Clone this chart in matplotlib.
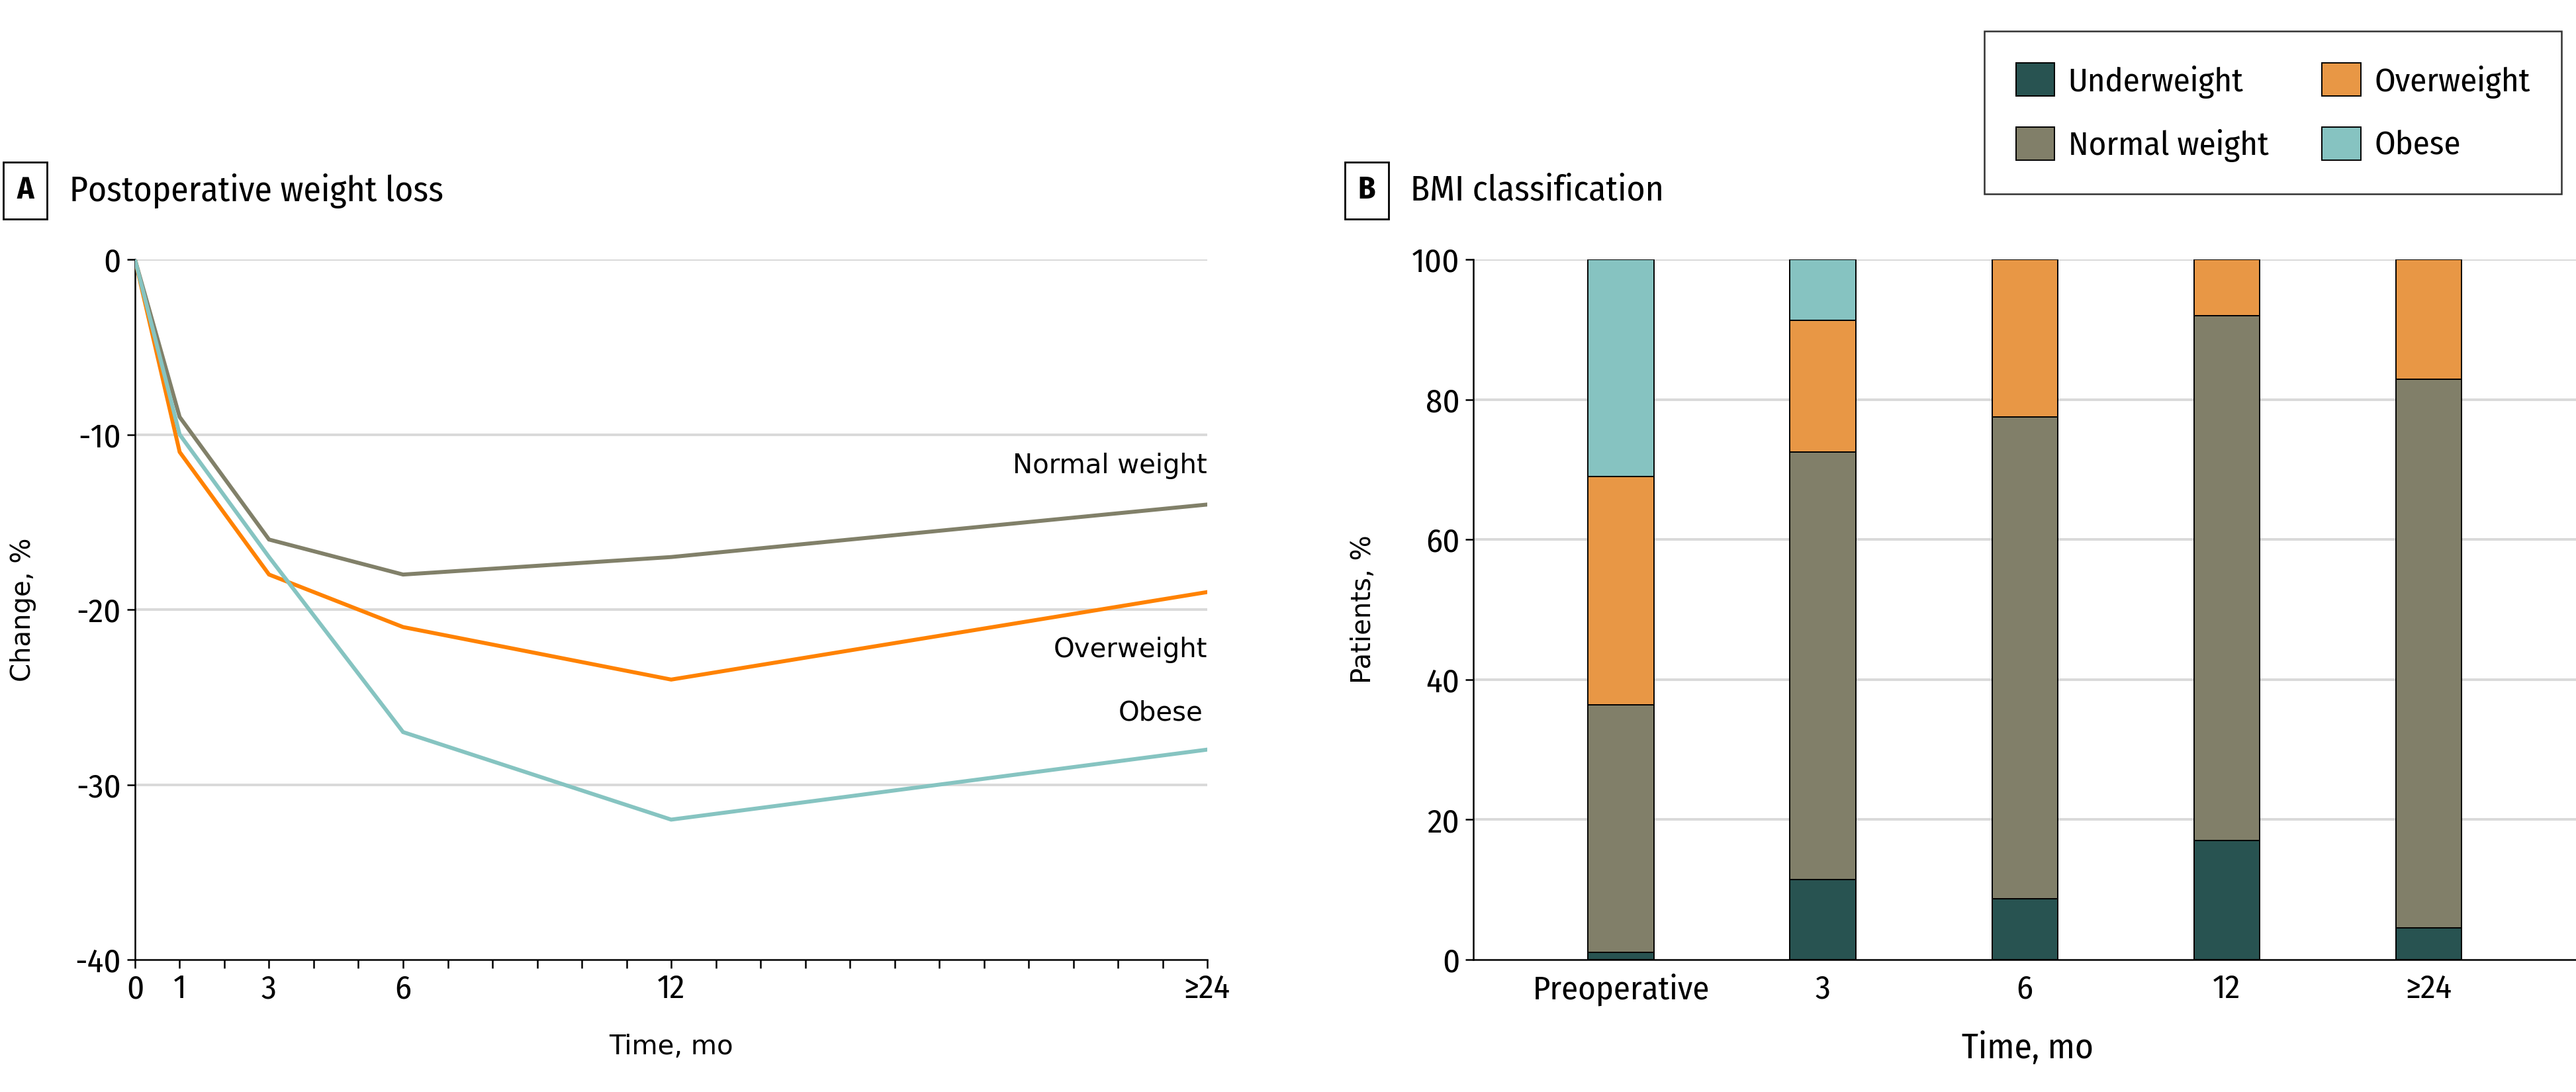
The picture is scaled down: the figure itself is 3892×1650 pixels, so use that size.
import matplotlib
matplotlib.use("Agg")
import matplotlib.pyplot as plt
from matplotlib.patches import Patch
import numpy as np

# ---- Data ----
months = [0, 1, 3, 6, 12, 24]
normal_change = [0, -9, -16, -18, -17, -14]
over_change = [0, -11, -18, -21, -24, -19]
obese_change = [0, -10, -17, -27, -32, -28]
xtick_vals = [0, 1, 3, 6, 12, 24]
xtick_labels = ["0", "1", "3", "6", "12", "\u226524"]

bar_cats = ["Preoperative", "3", "6", "12", "\u226524"]
under_pct = [1.0, 11.4, 8.7, 17.0, 4.5]
normal_pct = [35.4, 61.1, 68.8, 75.0, 78.4]
over_pct = [32.6, 18.8, 22.5, 8.0, 17.1]
obese_pct = [31.0, 8.7, 0.0, 0.0, 0.0]

# ---- Style ----
C_NORMAL_LINE = "#818069"
C_OVER_LINE = "#FF8200"
C_OBESE_LINE = "#86C4C1"
C_UNDER = "#285351"
C_NORMAL = "#817F69"
C_OVER = "#E89745"
C_OBESE = "#86C3C1"
GRID = "#D9D9D9"

NARROW = ["Fira Sans Condensed", "DejaVu Sans"]
WIDE = ["DejaVu Sans"]
FS = 36.5
FT = 38.5

fig = plt.figure(figsize=(38.92, 16.5), dpi=100)

# ---------- Panel A ----------
axA = fig.add_axes([0.0524, 0.1212, 0.4163, 0.6412])
axA.plot(months, normal_change, color=C_NORMAL_LINE, lw=4.3, solid_joinstyle="miter", zorder=3)
axA.plot(months, over_change, color=C_OVER_LINE, lw=4.3, solid_joinstyle="miter", zorder=3)
axA.plot(months, obese_change, color=C_OBESE_LINE, lw=4.3, solid_joinstyle="miter", zorder=4)
axA.set_xlim(0, 24)
axA.set_ylim(-40, 0)
axA.set_yticks([0, -10, -20, -30, -40])
axA.set_yticklabels(["0", "-10", "-20", "-30", "-40"])
axA.set_xticks(np.arange(0, 25, 1))
axA.set_xticklabels([xtick_labels[xtick_vals.index(v)] if v in xtick_vals else "" for v in range(25)])
for y in [0, -10, -20, -30]:
    axA.axhline(y, color=GRID, lw=2.8, zorder=1)
for s in ["top", "right"]:
    axA.spines[s].set_visible(False)
for s in ["left", "bottom"]:
    axA.spines[s].set_linewidth(1.8)
axA.tick_params(axis="both", direction="out", length=9, width=1.8, pad=6)
axA.tick_params(axis="y", length=9, pad=6)
for lab in axA.get_xticklabels() + axA.get_yticklabels():
    lab.set_family(NARROW)
    lab.set_fontsize(FS)
fig.text(0.009, 0.4418, "Change, %", rotation=90, ha="center", va="center", fontsize=29, family=WIDE)
fig.text(0.2606, 0.041, "Time, mo", ha="center", va="center", fontsize=29, family=WIDE)
axA.text(24, -11.8, "Normal weight", ha="right", va="center", fontsize=29, family=WIDE)
axA.text(24, -22.3, "Overweight", ha="right", va="center", fontsize=29, family=WIDE)
axA.text(23.9, -25.9, "Obese", ha="right", va="center", fontsize=29, family=WIDE)

fig.text(0.0098, 0.8255, "A", fontsize=34, fontweight="bold", family=NARROW, ha="center", va="center",
         bbox=dict(boxstyle="square,pad=0.42", fc="white", ec="black", lw=2))
fig.text(0.027, 0.8255, "Postoperative weight loss", fontsize=FT, family=NARROW, ha="left", va="center")

# ---------- Panel B ----------
axB = fig.add_axes([0.572, 0.1212, 0.428, 0.6412])
x = np.arange(len(bar_cats))
w = 0.325
b1 = np.array(under_pct)
b2 = b1 + np.array(normal_pct)
b3 = b2 + np.array(over_pct)
axB.bar(x, under_pct, w, color=C_UNDER, edgecolor="black", lw=1.4, zorder=3)
axB.bar(x, normal_pct, w, bottom=b1, color=C_NORMAL, edgecolor="black", lw=1.4, zorder=3)
axB.bar(x, over_pct, w, bottom=b2, color=C_OVER, edgecolor="black", lw=1.4, zorder=3)
obese_mask = np.array(obese_pct) > 0
axB.bar(x[obese_mask], np.array(obese_pct)[obese_mask], w, bottom=b3[obese_mask], color=C_OBESE,
        edgecolor="black", lw=1.4, zorder=3)
axB.set_xlim(-0.73, 4.73)
axB.set_ylim(0, 100)
axB.set_yticks([0, 20, 40, 60, 80, 100])
for y in [20, 40, 60, 80, 100]:
    axB.axhline(y, color=GRID, lw=2.8, zorder=1)
axB.set_xticks(x)
axB.set_xticklabels(bar_cats)
for s in ["top", "right"]:
    axB.spines[s].set_visible(False)
for s in ["left", "bottom"]:
    axB.spines[s].set_linewidth(1.8)
    axB.spines[s].set_zorder(4)
axB.tick_params(axis="y", direction="out", length=9, width=1.8, pad=6)
axB.tick_params(axis="x", length=0, pad=15)
for lab in axB.get_xticklabels() + axB.get_yticklabels():
    lab.set_family(NARROW)
    lab.set_fontsize(FS)
fig.text(0.5293, 0.4418, "Patients, %", rotation=90, ha="center", va="center", fontsize=29, family=WIDE)
fig.text(0.787, 0.040, "Time, mo", ha="center", va="center", fontsize=FT, family=NARROW)

fig.text(0.5306, 0.8255, "B", fontsize=34, fontweight="bold", family=NARROW, ha="center", va="center",
         bbox=dict(boxstyle="square,pad=0.42", fc="white", ec="black", lw=2))
fig.text(0.5475, 0.8255, "BMI classification", fontsize=FT, family=NARROW, ha="left", va="center")

handles = [Patch(fc=C_UNDER, ec="black", lw=1.4, label="Underweight"),
           Patch(fc=C_NORMAL, ec="black", lw=1.4, label="Normal weight"),
           Patch(fc=C_OVER, ec="black", lw=1.4, label="Overweight"),
           Patch(fc=C_OBESE, ec="black", lw=1.4, label="Obese")]
leg = fig.legend(handles=handles, ncol=2, loc="upper left", bbox_to_anchor=(0.7703, 0.9715),
                 borderaxespad=0.0,
                 frameon=True, fancybox=False, edgecolor="black", prop={"family": NARROW, "size": FS},
                 handlelength=1.15, handleheight=1.15, columnspacing=1.6, labelspacing=0.85,
                 borderpad=0.95, handletextpad=0.4)
leg.get_frame().set_linewidth(1.8)

fig.savefig("out.png", dpi=100, facecolor="white")
